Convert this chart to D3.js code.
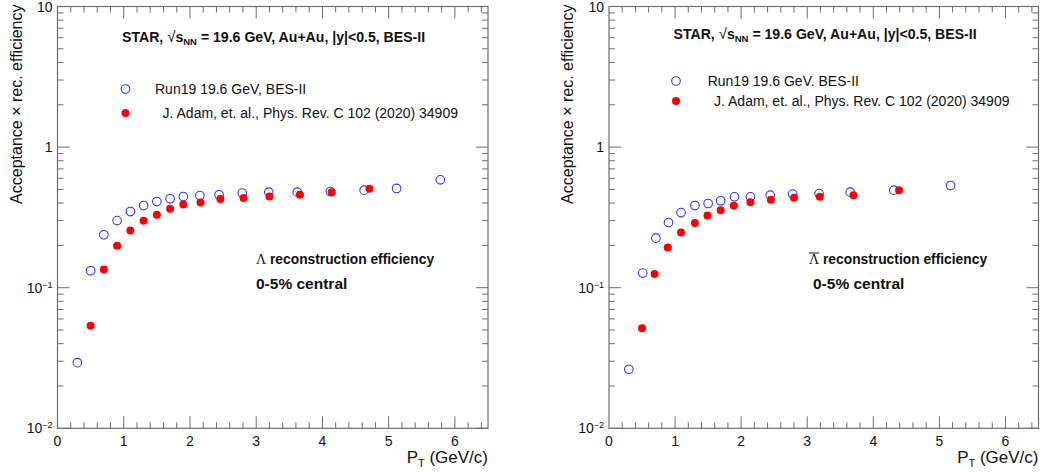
<!DOCTYPE html>
<html>
<head>
<meta charset="utf-8">
<script src="https://cdn.jsdelivr.net/npm/d3@7"></script>
<style>
  body { margin: 0; background: #fff; }
  text { font-family: "Liberation Sans", Arial, sans-serif; }
</style>
</head>
<body>
<div id="chart"></div>
<script>
var width = 1044,
    height = 472;

var colors =
  { blue: "#3333ff",
    red: "#ff0000",
    frame: "#6e6e6e",
    ink: "#111"
  };

// Lambda, 0-5% central
var lamRun19Pt  = [0.30, 0.50, 0.70, 0.90, 1.10, 1.30, 1.50, 1.70, 1.90, 2.15, 2.44, 2.79, 3.19, 3.62, 4.12, 4.63, 5.12, 5.78];
var lamRun19Eff = [0.0293, 0.132, 0.238, 0.300, 0.348, 0.384, 0.410, 0.429, 0.445, 0.452, 0.458, 0.471, 0.478, 0.478, 0.483, 0.494, 0.508, 0.585];
var lamPrcPt    = [0.50, 0.70, 0.90, 1.10, 1.30, 1.50, 1.70, 1.90, 2.16, 2.46, 2.81, 3.20, 3.66, 4.14, 4.71];
var lamPrcEff   = [0.0537, 0.135, 0.199, 0.255, 0.299, 0.330, 0.364, 0.390, 0.403, 0.427, 0.434, 0.445, 0.458, 0.478, 0.505];

// anti-Lambda, 0-5% central
var alamRun19Pt  = [0.30, 0.51, 0.71, 0.90, 1.09, 1.30, 1.50, 1.69, 1.90, 2.14, 2.44, 2.78, 3.18, 3.65, 4.31, 5.17];
var alamRun19Eff = [0.0263, 0.127, 0.225, 0.291, 0.342, 0.384, 0.397, 0.415, 0.443, 0.443, 0.455, 0.463, 0.467, 0.478, 0.494, 0.533];
var alamPrcPt    = [0.50, 0.69, 0.89, 1.09, 1.30, 1.49, 1.69, 1.89, 2.14, 2.45, 2.80, 3.19, 3.70, 4.39];
var alamPrcEff   = [0.0515, 0.125, 0.193, 0.247, 0.288, 0.326, 0.356, 0.382, 0.406, 0.422, 0.436, 0.443, 0.455, 0.494];

var yTicks = [0.01, 0.1, 1, 10];
var yTickLabels = [["10", "\u22122"], ["10", "\u22121"], ["1", ""], ["10", ""]];
var xTicks = [0, 1, 2, 3, 4, 5, 6];

var headerText = ["STAR, ", "s", "NN", " = 19.6 GeV, Au+Au, |y|<0.5, BES-II"];

var panels = [
  { left: 57.5, right: 488, headY: 37, legY: [89, 113], legX: 68, legText: "Run19 19.6 GeV, BES-II",
    legTx: [97.5, 105], labX: [198.5, 198.5], anti: false,
    blue: [lamRun19Pt, lamRun19Eff], red: [lamPrcPt, lamPrcEff] },
  { left: 609, right: 1038.5, headY: 34, legY: [81, 101], legX: 67, legText: "Run19 19.6 GeV. BES-II",
    legTx: [98.7, 105], labX: [200, 204], anti: true,
    blue: [alamRun19Pt, alamRun19Eff], red: [alamPrcPt, alamPrcEff] }
];

var frameTop = 6.5, frameBottom = 428.3;

var svg = d3.select("#chart").append("svg")
    .attr("width", width)
    .attr("height", height);

panels.forEach(function(p){
  var x = d3.scaleLinear().domain([0, 6.5]).range([p.left, p.right]);
  var y = d3.scaleLog().domain([0.01, 10]).range([frameBottom, frameTop]);
  var g = svg.append("g");

  // frame
  g.append("rect")
   .attr("x", p.left).attr("y", frameTop)
   .attr("width", p.right - p.left).attr("height", frameBottom - frameTop)
   .style("fill", "none").style("stroke", colors.frame).style("stroke-width", 1.2);

  // y ticks (majors + 2..9 minors), both sides
  var yMinor = [];
  yTicks.slice(0, -1).forEach(function(d){ for (var k = 2; k <= 9; k++) yMinor.push(d * k); });
  var yAll = yTicks.map(function(d){ return {v: d, len: 12}; })
    .concat(yMinor.map(function(d){ return {v: d, len: 6}; }));
  g.selectAll("line.ytl").data(yAll).enter().append("line")
   .attr("x1", p.left).attr("x2", function(d){ return p.left + d.len; })
   .attr("y1", function(d){ return y(d.v); }).attr("y2", function(d){ return y(d.v); })
   .style("stroke", colors.frame);
  g.selectAll("line.ytr").data(yAll).enter().append("line")
   .attr("x1", p.right).attr("x2", function(d){ return p.right - d.len; })
   .attr("y1", function(d){ return y(d.v); }).attr("y2", function(d){ return y(d.v); })
   .style("stroke", colors.frame);

  // x ticks every 0.2, majors every 1
  var xAll = d3.range(1, 33).map(function(i){ return {v: i * 0.2, len: (i % 5 === 0) ? 12 : 6}; });
  g.selectAll("line.xtb").data(xAll).enter().append("line")
   .attr("x1", function(d){ return x(d.v); }).attr("x2", function(d){ return x(d.v); })
   .attr("y1", frameBottom).attr("y2", function(d){ return frameBottom - d.len; })
   .style("stroke", colors.frame);
  g.selectAll("line.xtt").data(xAll).enter().append("line")
   .attr("x1", function(d){ return x(d.v); }).attr("x2", function(d){ return x(d.v); })
   .attr("y1", frameTop).attr("y2", function(d){ return frameTop + d.len; })
   .style("stroke", colors.frame);

  // tick labels
  yTicks.forEach(function(d, i){
    var t = g.append("text")
      .attr("x", p.left - 5).attr("y", y(d) + 5)
      .attr("text-anchor", "end")
      .style("font-size", "14px").style("fill", colors.ink);
    t.append("tspan").text(yTickLabels[i][0]);
    if (yTickLabels[i][1])
      t.append("tspan").attr("dy", -5).style("font-size", "9px").text(yTickLabels[i][1]);
  });
  g.selectAll("text.xl").data(xTicks).enter().append("text")
   .attr("x", function(d){ return x(d); }).attr("y", frameBottom + 18)
   .attr("text-anchor", "middle")
   .style("font-size", "14px").style("fill", colors.ink)
   .text(function(d){ return d; });

  // axis titles
  var xt = g.append("text").attr("x", p.right).attr("y", frameBottom + 35)
    .attr("text-anchor", "end").style("font-size", "17px").style("fill", colors.ink);
  xt.append("tspan").text("P");
  xt.append("tspan").attr("dy", 4).style("font-size", "11px").text("T");
  xt.append("tspan").attr("dy", -4).text(" (GeV/c)");

  g.append("text")
   .attr("transform", "translate(" + (p.left - 36) + "," + (frameTop - 2) + ") rotate(-90)")
   .attr("text-anchor", "end")
   .style("font-size", "16px").style("fill", colors.ink)
   .text("Acceptance \u00d7 rec. efficiency");

  // header
  var h = g.append("text").attr("x", p.left + 64.5).attr("y", p.headY + 5)
    .style("font-size", "14.1px").style("font-weight", "bold").style("fill", colors.ink);
  h.append("tspan").text(headerText[0]);
  h.append("tspan").style("font-weight", "normal").style("font-size", "15px").text("\u221a");
  h.append("tspan").text(headerText[1]);
  h.append("tspan").attr("dy", 3).style("font-size", "9.5px").text(headerText[2]);
  h.append("tspan").attr("dy", -3).text(headerText[3]);

  // legend
  g.append("circle").attr("cx", p.left + p.legX).attr("cy", p.legY[0]).attr("r", 4.3)
   .style("fill", "none").style("stroke", colors.blue).style("stroke-width", 1.1);
  g.append("circle").attr("cx", p.left + p.legX).attr("cy", p.legY[1]).attr("r", 4)
   .style("fill", colors.red);
  g.append("text").attr("x", p.left + p.legTx[0]).attr("y", p.legY[0] + 5)
   .style("font-size", "14px").style("fill", colors.ink).text(p.legText);
  g.append("text").attr("x", p.left + p.legTx[1]).attr("y", p.legY[1] + 5)
   .style("font-size", "14px").style("fill", colors.ink).text("J. Adam, et. al., Phys. Rev. C 102 (2020) 34909");

  // labels
  var lt = g.append("text").attr("x", p.left + p.labX[0]).attr("y", 264)
    .style("font-size", "13.8px").style("font-weight", "bold").style("fill", colors.ink);
  lt.append("tspan").style("font-family", "'Liberation Serif', serif")
    .style("font-weight", "normal").style("font-size", "14px").text("\u039b");
  lt.append("tspan").text(" reconstruction efficiency");
  if (p.anti) {
    var bb = lt.node().getExtentOfChar(0);
    g.append("line").attr("x1", bb.x).attr("x2", bb.x + bb.width)
     .attr("y1", bb.y + 1).attr("y2", bb.y + 1)
     .style("stroke", colors.ink).style("stroke-width", 1);
  }
  g.append("text").attr("x", p.left + p.labX[1]).attr("y", 289)
   .style("font-size", "15.5px").style("font-weight", "bold").style("fill", colors.ink)
   .text("0-5% central");

  // points
  g.selectAll("circle.run19").data(p.blue[0]).enter().append("circle")
   .attr("class", "run19")
   .attr("cx", function(d){ return x(d); })
   .attr("cy", function(d, i){ return y(p.blue[1][i]); })
   .attr("r", 4.3)
   .style("fill", "none").style("stroke", colors.blue).style("stroke-width", 1.1);
  g.selectAll("circle.prc").data(p.red[0]).enter().append("circle")
   .attr("class", "prc")
   .attr("cx", function(d){ return x(d); })
   .attr("cy", function(d, i){ return y(p.red[1][i]); })
   .attr("r", 4)
   .style("fill", colors.red);
});
</script>
</body>
</html>
